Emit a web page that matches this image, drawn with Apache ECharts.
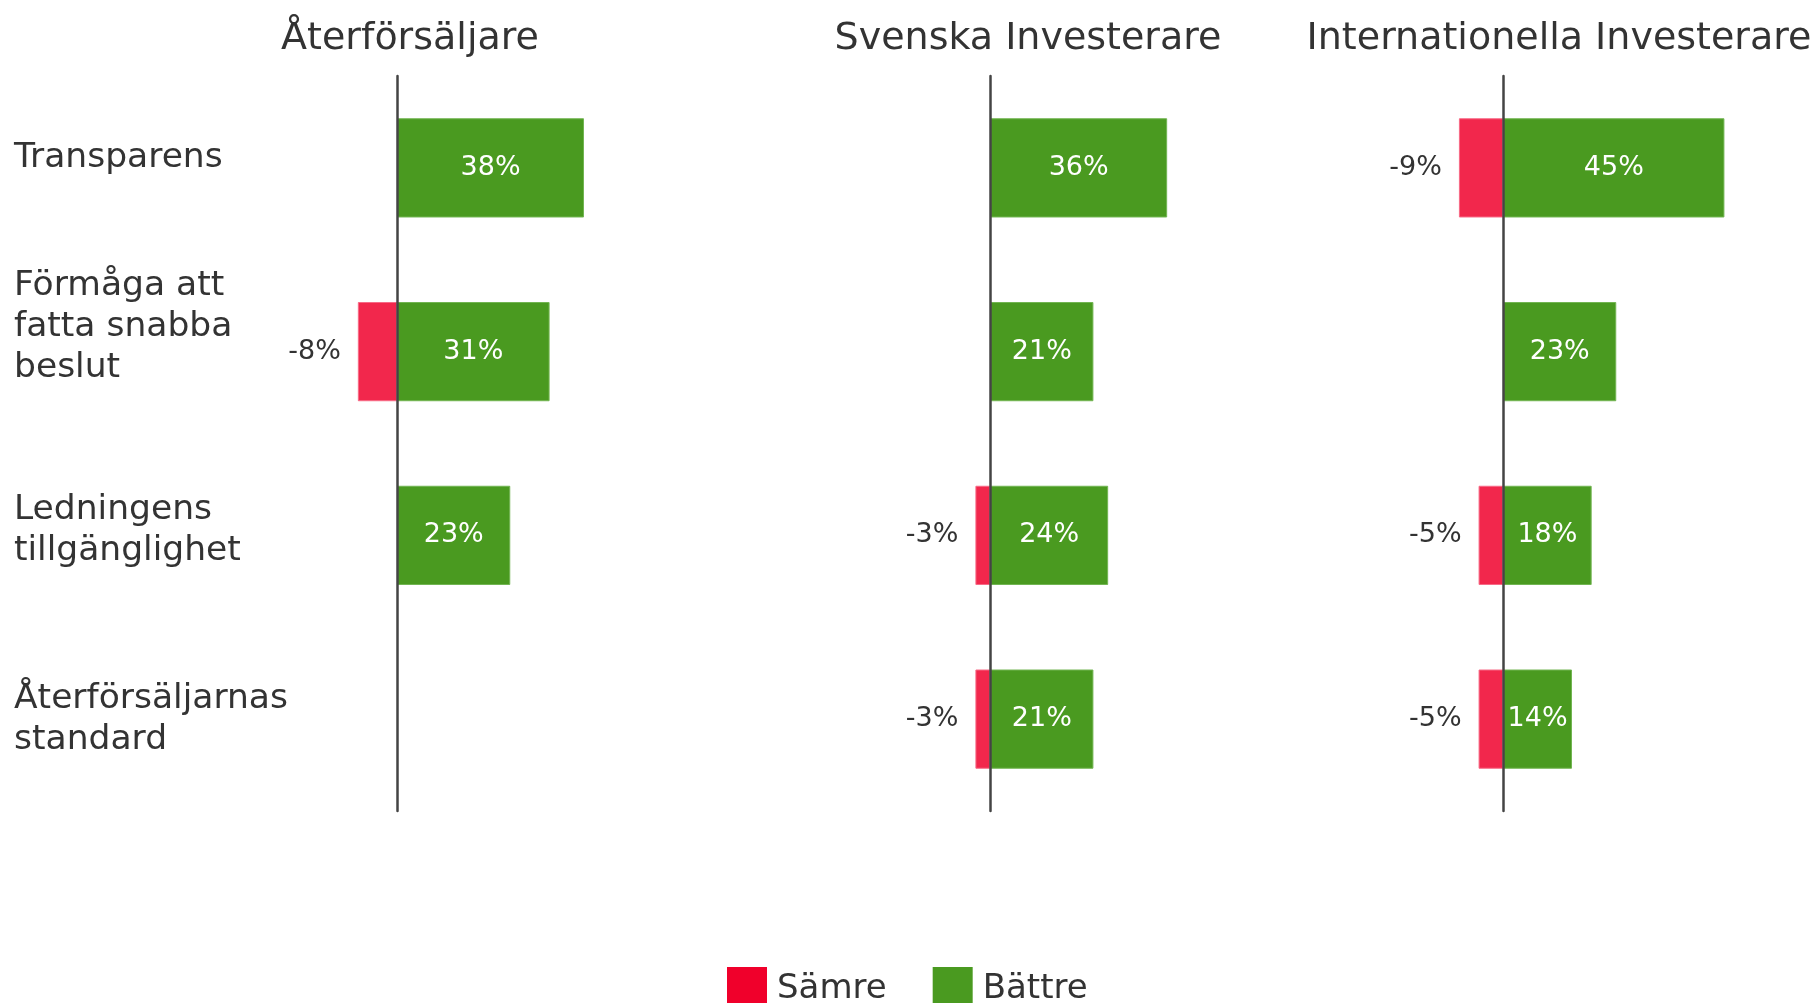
<!DOCTYPE html>
<html>
<head>
<meta charset="utf-8">
<script src="https://cdn.jsdelivr.net/npm/echarts@6/dist/echarts.min.js"></script>
<style>
    html, body { margin: 0; padding: 0; background: #fff; }
    #chart { width: 1817px; height: 1003px; }
</style>
</head>
<body>
<div id="chart"></div>
<script>
// data
const categories = ['Transparens', 'Förmåga att\nfatta snabba\nbeslut', 'Ledningens\ntillgänglighet', 'Återförsäljarnas\nstandard']
const groupNames = ['Återförsäljare', 'Svenska Investerare', 'Internationella Investerare']
const seriesNames = ['Sämre', 'Bättre']
// '-' = no bar
const worseAter = ['-', -8, '-', '-']
const betterAter = [38, 31, 23, '-']
const worseSvenska = ['-', '-', -3, -3]
const betterSvenska = [36, 21, 24, 21]
const worseIntl = [-9, '-', -5, -5]
const betterIntl = [45, 23, 18, 14]

const worseList = [worseAter, worseSvenska, worseIntl]
const betterList = [betterAter, betterSvenska, betterIntl]

// layout
const font = 'DejaVu Sans'
const textColor = '#333'
const red = '#F2274C'
const redLegend = '#F0002B'
const green = '#4A9A20'
const gridLefts = [348, 941, 1454]
const titleCenters = [405, 1023, 1554]
// extra empty line under each category label, lifts the text by half of it
const labelLift = [20, 50, 10, 0]
const xMin = -10
const xMax = 50

const chart = echarts.init(document.getElementById('chart'))

function pct(p) {
    return `${p.value}%`
}

function catLabel(value, index) {
    let lines = value.split('\n').map((s) => `{t|${s}}`)
    return lines.join('\n') + `\n{g${index}|}`
}

let rich = {
    t: { fontFamily: font, fontSize: 34.5, lineHeight: 41, color: textColor },
}
labelLift.forEach((h, k) => {
    rich[`g${k}`] = { fontSize: 1, lineHeight: h }
})

let grids = []
let xAxes = []
let yAxes = []
let series = []
let titles = []

groupNames.forEach((name, i) => {
    titles.push({
        text: name,
        left: titleCenters[i],
        top: 15,
        textAlign: 'center',
        textStyle: { fontFamily: font, fontSize: 38, fontWeight: 'normal', color: textColor },
    })
    grids.push({ left: gridLefts[i], width: 295, top: 76, bottom: 192, outerBoundsMode: 'none' })
    xAxes.push({
        type: 'value',
        gridIndex: i,
        min: xMin,
        max: xMax,
        show: false,
    })
    yAxes.push({
        type: 'category',
        gridIndex: i,
        data: categories,
        inverse: true,
        z: 10,
        axisLine: { show: true, onZero: true, lineStyle: { color: '#444', width: 2.5 } },
        axisTick: { show: false },
        splitLine: { show: false },
        axisLabel: {
            show: i === 0,
            interval: 0,
            align: 'left',
            margin: 334,
            formatter: catLabel,
            rich: rich,
        },
    })
    series.push({
        name: seriesNames[0],
        type: 'bar',
        xAxisIndex: i,
        yAxisIndex: i,
        stack: `g${i}`,
        barCategoryGap: '46%',
        data: worseList[i],
        itemStyle: { color: red, borderColor: '#F76A86', borderWidth: 1 },
        label: {
            show: true,
            position: 'left',
            distance: 17,
            formatter: pct,
            fontFamily: font,
            fontSize: 27,
            color: textColor,
        },
    })
    series.push({
        name: seriesNames[1],
        type: 'bar',
        xAxisIndex: i,
        yAxisIndex: i,
        stack: `g${i}`,
        barCategoryGap: '46%',
        data: betterList[i],
        itemStyle: { color: green, borderColor: '#72B552', borderWidth: 1 },
        label: {
            show: true,
            position: 'inside',
            formatter: pct,
            fontFamily: font,
            fontSize: 27,
            color: '#fff',
        },
    })
})

let option = {
    animation: false,
    backgroundColor: '#fff',
    title: titles,
    grid: grids,
    xAxis: xAxes,
    yAxis: yAxes,
    legend: {
        left: 722,
        top: 962,
        icon: 'rect',
        itemWidth: 40,
        itemHeight: 44,
        itemGap: 46,
        selectedMode: false,
        textStyle: { fontFamily: font, fontSize: 34, color: textColor, padding: [0, 0, 0, 5] },
        data: [
            { name: seriesNames[0], itemStyle: { color: redLegend, borderWidth: 0 } },
            { name: seriesNames[1], itemStyle: { color: green, borderWidth: 0 } },
        ],
    },
    series: series,
}

chart.setOption(option)
</script>
</body>
</html>
